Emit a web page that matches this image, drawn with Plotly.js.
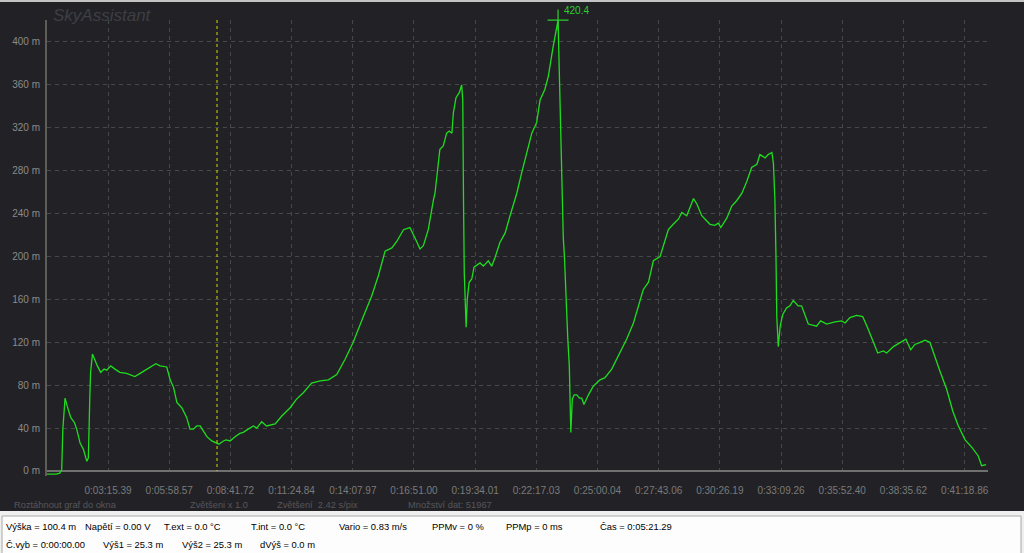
<!DOCTYPE html>
<html>
<head>
<meta charset="utf-8">
<script src="https://cdn.plot.ly/plotly-3.0.1.min.js"></script>
<style>
html,body{margin:0;padding:0;background:#222226;overflow:hidden;}
#chart{width:1024px;height:553px;}
</style>
</head>
<body>
<div id="chart"></div>
<script>
// ---- data (elapsed time in seconds, altitude in metres) ----
const timeSec = [
  32,57,67,72,75,78,81,87,96,106,
  112,121,130,139,143,147,149,154,159,167,
  176,185,192,203,214,227,245,267,281,299,
  312,323,334,352,361,370,379,392,405,414,
  423,432,441,449,459,472,485,491,503,510,
  521,534,547,556,569,583,592,605,618,641,
  658,681,698,716,738,761,783,805,827,849,
  876,898,916,934,952,965,983,1000,1014,1027,
  1036,1049,1063,1067,1080,1089,1098,1105,1112,1116,
  1123,1132,1138,1141,1143,1145,1150,1153,1158,1165,
  1171,1187,1196,1209,1218,1227,1240,1254,1267,1285,
  1298,1311,1325,1338,1347,1360,1369,1382,1391,1395,
  1398,1402,1406,1409,1412,1416,1421,1425,1429,1433,
  1438,1445,1452,1458,1464,1476,1489,1507,1520,1538,
  1551,1560,1578,1596,1609,1622,1636,1649,1667,1680,
  1689,1702,1716,1725,1738,1756,1765,1778,1800,1813,
  1822,1829,1845,1858,1871,1885,1898,1911,1925,1933,
  1947,1955,1965,1969,1973,1976,1978,1982,1987,1994,
  2004,2013,2022,2035,2044,2062,2084,2095,2111,2133,
  2151,2160,2173,2191,2207,2222,2235,2247,2262,2271,
  2289,2306,2322,2335,2346,2360,2373,2386,2400,2413,
  2431,2447,2462,2480,2498,2515,2524,2536
];
const altitudeM = [
  -3,-3,-2,1,39,60,68,60,50,45,
  39,26,20,9,12,70,92,109,104,98,
  92,95,94,98,95,92,91,88,91,95,
  98,100,98,97,85,78,64,59,50,39,
  39,42,42,37,32,28,26,25,28,29,
  28,32,35,36,39,42,40,46,42,44,
  51,59,67,73,82,84,85,90,104,120,
  144,163,182,205,208,214,225,227,217,207,
  210,225,253,259,300,303,315,317,315,334,
  348,353,360,346,253,185,134,160,176,179,
  190,194,191,196,191,199,213,222,238,259,
  278,297,315,325,346,356,368,396,415,420.4,
  377,315,253,217,200,160,123,98,36,67,
  71,71,68,68,62,71,79,85,87,95,
  104,109,123,138,154,169,176,196,200,216,
  225,230,235,241,238,254,249,238,230,229,
  231,227,236,247,252,259,270,283,286,295,
  292,295,297,287,253,197,144,116,135,146,
  152,154,159,154,154,137,135,140,137,139,
  140,138,143,145,144,132,121,110,112,110,
  116,120,123,113,118,120,122,120,107,93,
  76,56,42,29,22,14,5,6
];
const xTickVals = [195.39,358.57,521.72,684.84,847.97,1011.00,1174.01,1337.03,1500.04,1663.06,1826.19,1989.26,2152.40,2315.62,2478.86];
const xTickText = ['0:03:15.39','0:05:58.57','0:08:41.72','0:11:24.84','0:14:07.97','0:16:51.00','0:19:34.01','0:22:17.03','0:25:00.04','0:27:43.06','0:30:26.19','0:33:09.26','0:35:52.40','0:38:35.62','0:41:18.86'];
const peakTime = [1395];
const peakAlt = [420.4];
const peakLabel = '420.4';
const cursorTime = 486;
const footerLabels = ['Roztáhnout graf do okna','Zvětšeni x 1.0','Zvětšení  2.42 s/pix','Množství dat: 51967'];
const statusRow1 = ['Výška = 100.4 m','Napětí = 0.00 V','T.ext = 0.0 °C','T.int = 0.0 °C','Vario = 0.83 m/s','PPMv = 0 %','PPMp = 0 ms','Čas = 0:05:21.29'];
const statusRow2 = ['Č.vyb = 0:00:00.00','Výš1 = 25.3 m','Výš2 = 25.3 m','dVýš = 0.0 m'];

// ---- layout geometry (pixels) ----
const W = 1024, H = 553;
const mL = 47, mR = 36, mT = 20, mB = 77;
const plotW = W - mL - mR, plotH = H - mT - mB;
const px = x => (x - mL) / plotW;          // pixel x -> paper x
const py = y => (H - mB - y) / plotH;      // pixel y -> paper y

const FONT = 'Liberation Sans, Arial, sans-serif';
const annotations = [];
function txt(text, x, y, size, color, extra) {
  annotations.push(Object.assign({
    xref: 'paper', yref: 'paper', x: px(x), y: py(y), text: text,
    showarrow: false, xanchor: 'left', yanchor: 'middle',
    font: {family: FONT, size: size, color: color}
  }, extra || {}));
}
txt('SkyAssistant', 51, 16, 17, '#3e3e44', {font: {family: FONT, size: 17, color: '#3e3e44', style: 'italic'}});
const footerX = [12, 188, 275, 406];
footerLabels.forEach((t, i) => txt(t, footerX[i], 505, 9.3, '#56565a'));
const row1X = [4, 83, 162, 249, 337, 430, 504, 598];
statusRow1.forEach((t, i) => txt(t, row1X[i], 526, 9.4, '#000000'));
const row2X = [4, 101, 180, 258];
statusRow2.forEach((t, i) => txt(t, row2X[i], 544, 9.4, '#000000'));
annotations.push({
  xref: 'x', yref: 'y', x: peakTime[0], y: peakAlt[0], text: peakLabel,
  showarrow: false, xanchor: 'left', yanchor: 'middle', xshift: 4, yshift: 10,
  font: {family: FONT, size: 10, color: '#2ccf2c'}
});

const shapes = [
  // status bar
  {type: 'rect', xref: 'paper', yref: 'paper', x0: px(0), x1: px(W), y0: py(511), y1: py(H + 2), fillcolor: '#efefef', line: {width: 0}, layer: 'below'},
  {type: 'rect', xref: 'paper', yref: 'paper', x0: px(2), x1: px(1021), y0: py(516), y1: py(H + 2), fillcolor: '#fdfdfd', line: {color: '#a8a8a8', width: 1}, layer: 'below'},
  // window top border
  {type: 'rect', xref: 'paper', yref: 'paper', x0: px(0), x1: px(W), y0: py(2), y1: py(-1), fillcolor: '#c4c4c4', line: {width: 0}},
  // cursor line
  {type: 'line', xref: 'x', yref: 'paper', x0: cursorTime, x1: cursorTime, y0: py(20), y1: py(471), line: {color: '#d8d800', width: 1, dash: '3px,3px'}}
];

const traces = [
  {x: timeSec, y: altitudeM, type: 'scatter', mode: 'lines',
   line: {color: '#1fdc1f', width: 1.3}, hoverinfo: 'skip'},
  {x: peakTime, y: peakAlt, type: 'scatter', mode: 'markers', cliponaxis: false,
   marker: {symbol: 'cross-thin', size: 15, line: {color: '#2ccf2c', width: 1.2}}, hoverinfo: 'skip'}
];

const layout = {
  width: W, height: H,
  margin: {l: mL, r: mR, t: mT, b: mB, pad: 0},
  paper_bgcolor: '#222226', plot_bgcolor: '#222226',
  showlegend: false,
  font: {family: FONT, size: 10, color: '#7c7c7c'},
  xaxis: {
    range: [32.8, 2541], showline: false, zeroline: false,
    tickmode: 'array', tickvals: xTickVals, ticktext: xTickText,
    ticks: '', ticklabelstandoff: 7,
    showgrid: true, gridcolor: '#464a46', griddash: '4px,4px', gridwidth: 1,
    tickfont: {family: FONT, size: 10, color: '#7a7a7a'}, fixedrange: true
  },
  yaxis: {
    range: [-4.67, 420.5], tick0: 0, dtick: 40, ticksuffix: ' m',
    showline: true, linecolor: '#5e5e58', linewidth: 2,
    zeroline: true, zerolinecolor: '#707070', zerolinewidth: 2,
    showgrid: true, gridcolor: '#464a4a', griddash: '4px,4px', gridwidth: 1,
    ticks: '', ticklabelstandoff: 3,
    tickfont: {family: FONT, size: 10, color: '#8a8a8a'}, fixedrange: true
  },
  shapes: shapes,
  annotations: annotations
};

Plotly.newPlot('chart', traces, layout, {staticPlot: true, displayModeBar: false});
</script>
</body>
</html>
